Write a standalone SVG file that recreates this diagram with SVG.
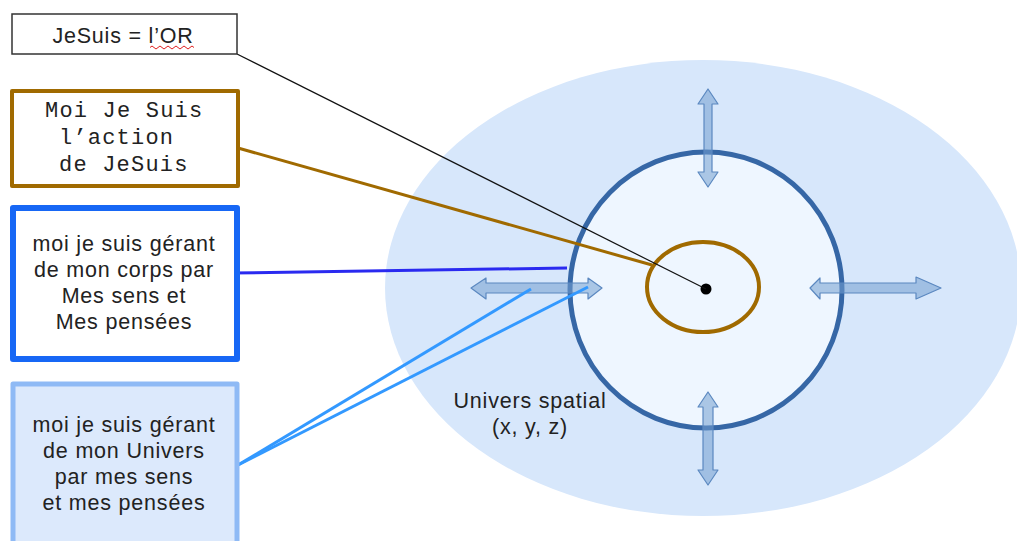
<svg xmlns="http://www.w3.org/2000/svg" width="1017" height="541" viewBox="0 0 1017 541">
<style>
.sans{font-family:"Liberation Sans",Arial,sans-serif;font-size:21.5px;letter-spacing:0.8px;fill:#222;}
.mono{font-family:"Liberation Mono","Courier New",monospace;font-size:22px;letter-spacing:1.2px;fill:#222;}
.arrow{fill:#729fcf;fill-opacity:0.55;stroke:#5b88c0;stroke-width:1.2;stroke-linejoin:round;}
.conn{fill:none;}
</style>
<rect width="1017" height="541" fill="#ffffff"/>
<g id="universe">
<ellipse cx="703" cy="288" rx="318" ry="228" fill="#d7e7fb"/>
<ellipse cx="706" cy="290" rx="136" ry="138" fill="#eef6ff" stroke="#3667a6" stroke-width="5"/>
<ellipse cx="703" cy="287" rx="56" ry="45" fill="none" stroke="#a06a00" stroke-width="4"/>
<circle cx="706" cy="289" r="5.5" fill="#000"/>
</g>
<g id="arrows">
<path class="arrow" d="M708,89 L718,104 L712,104 L712,172 L718,172 L708,187 L698,172 L704,172 L704,104 L698,104 Z"/>
<path class="arrow" d="M708,392 L718,407 L713,407 L713,470 L718,470 L708,485 L698,470 L703,470 L703,407 L698,407 Z"/>
<path class="arrow" d="M471,288 L486,278 L486,283 L588,283 L588,278 L602,288 L588,299 L588,293 L486,293 L486,299 Z"/>
<path class="arrow" d="M810,288 L820,278 L820,283 L916,283 L916,277 L941,288 L916,299 L916,293 L820,293 L820,299 Z"/>
</g>
<g id="connectors" class="conn">
<line x1="237" y1="54" x2="706" y2="289" stroke="#111" stroke-width="1.2"/>
<line x1="238" y1="148" x2="652" y2="265" stroke="#a06a00" stroke-width="3"/>
<line x1="232" y1="273" x2="567" y2="268" stroke="#2a2af0" stroke-width="3"/>
<line x1="238" y1="465" x2="531" y2="289" stroke="#3399ff" stroke-width="3"/>
<line x1="238" y1="465" x2="588" y2="287" stroke="#3399ff" stroke-width="3"/>
</g>
<g id="box-jesuis">
<rect x="12" y="14" width="225" height="40" fill="#fff" stroke="#333" stroke-width="1.5"/>
<text class="sans" x="123" y="43" text-anchor="middle">JeSuis = l’OR</text>
<path d="M150,47.5 q2,-3 4,0 t4,0 t4,0 t4,0 t4,0 t4,0 t4,0 t4,0 t4,0 t4,0 t4,0" fill="none" stroke="#e02020" stroke-width="1"/>
</g>
<g id="box-moi">
<rect x="12" y="91" width="226" height="95" fill="#fff" stroke="#a06a00" stroke-width="4" stroke-linejoin="round"/>
<text class="mono" x="45" y="117">Moi Je Suis</text>
<text class="mono" x="59" y="144">l’action</text>
<text class="mono" x="59" y="171">de JeSuis</text>
</g>
<g id="box-corps">
<rect x="13" y="208" width="224" height="151" fill="#fff" stroke="#1767f5" stroke-width="6" stroke-linejoin="round"/>
<text class="sans" x="124" y="251" text-anchor="middle">moi je suis gérant</text>
<text class="sans" x="124" y="277" text-anchor="middle">de mon corps par</text>
<text class="sans" x="124" y="303" text-anchor="middle">Mes sens et</text>
<text class="sans" x="124" y="329" text-anchor="middle">Mes pensées</text>
</g>
<g id="box-univers">
<rect x="13" y="384" width="224" height="165" fill="#dce9fc" stroke="#8fbaf5" stroke-width="5" stroke-linejoin="round"/>
<text class="sans" x="124" y="432" text-anchor="middle">moi je suis gérant</text>
<text class="sans" x="124" y="458" text-anchor="middle">de mon Univers</text>
<text class="sans" x="124" y="484" text-anchor="middle">par mes sens</text>
<text class="sans" x="124" y="510" text-anchor="middle">et mes pensées</text>
</g>
<g id="label-univers">
<text class="sans" x="530" y="408" text-anchor="middle">Univers spatial</text>
<text class="sans" x="530" y="434" text-anchor="middle">(x, y, z)</text>
</g>
</svg>
